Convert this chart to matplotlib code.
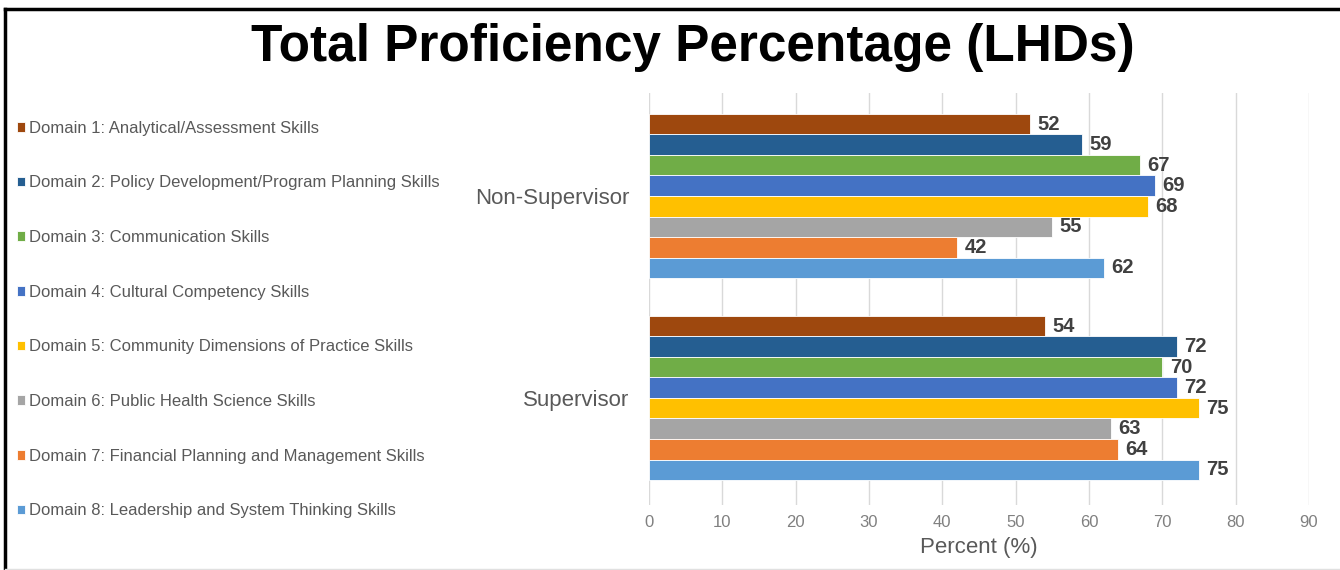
import matplotlib
matplotlib.use("Agg")
import matplotlib.pyplot as plt
from matplotlib.lines import Line2D
import numpy as np

plt.rcParams.update({"font.family": ["Liberation Sans", "DejaVu Sans"]})

# data
groups = ["Non-Supervisor", "Supervisor"]
domains = [
    "Domain 1: Analytical/Assessment Skills",
    "Domain 2: Policy Development/Program Planning Skills",
    "Domain 3: Communication Skills",
    "Domain 4: Cultural Competency Skills",
    "Domain 5: Community Dimensions of Practice Skills",
    "Domain 6: Public Health Science Skills",
    "Domain 7: Financial Planning and Management Skills",
    "Domain 8: Leadership and System Thinking Skills",
]
non_supervisor = [52, 59, 67, 69, 68, 55, 42, 62]
supervisor = [54, 72, 70, 72, 75, 63, 64, 75]
colors = ["#9E480E", "#255E91", "#70AD47", "#4472C4",
          "#FFC000", "#A5A5A5", "#ED7D31", "#5B9BD5"]
xticks = list(range(0, 100, 10))

W, H = 1340, 570
fig = plt.figure(figsize=(W / 100, H / 100), dpi=100)
ax = fig.add_axes([649 / W, 1 - 505 / H, 660 / W, 412 / H])

y = np.arange(len(groups))
bh = 0.1016
handles = []
for i, (name, col) in enumerate(zip(domains, colors)):
    vals = [non_supervisor[i], supervisor[i]]
    off = (i - 3.5) * bh
    bars = ax.barh(y + off, vals, height=bh, color=col, edgecolor="white",
                   linewidth=0.6, label=name, zorder=3)
    handles.append(bars)
    for yy, v in zip(y + off, vals):
        ax.text(v + 1.0, yy, f"{v}", va="center", ha="left", fontsize=14.5,
                fontweight="bold", color="#404040", zorder=4)

ax.set_ylim(1.53, -0.51)
ax.set_xlim(0, 90)
ax.set_xticks(xticks)
ax.set_yticks(y)
ax.set_yticklabels(groups, fontsize=16, color="#595959")
ax.tick_params(axis="y", length=0, pad=14)
ax.tick_params(axis="x", length=0, pad=7, labelsize=12, labelcolor="#808080")
for s in ax.spines.values():
    s.set_visible(False)
ax.grid(axis="x", color="#D9D9D9", linewidth=1, zorder=0)
ax.set_xlabel("Percent (%)", fontsize=16, color="#595959", labelpad=5)

fig.text(693 / W, 1 - 48 / H, "Total Proficiency Percentage (LHDs)",
         ha="center", va="center", fontsize=37, fontweight="bold", color="black")

leg = fig.legend(handles=handles, labels=domains, loc="upper left",
                 bbox_to_anchor=(10 / W, 1 - 114 / H), frameon=False,
                 fontsize=12, labelcolor="#595959", handlelength=0.5,
                 handleheight=0.5, handletextpad=0.25, labelspacing=2.38,
                 borderaxespad=0)

# frame lines
fig.add_artist(Line2D([5 / W, 1], [1 - 9 / H, 1 - 9 / H], color="black", lw=2.5))
fig.add_artist(Line2D([5 / W, 5 / W], [0, 1 - 9 / H], color="black", lw=2.5))
fig.add_artist(Line2D([5 / W, 1], [1 / H, 1 / H], color="#E0E0E0", lw=1))

fig.savefig("out.png", dpi=100)
